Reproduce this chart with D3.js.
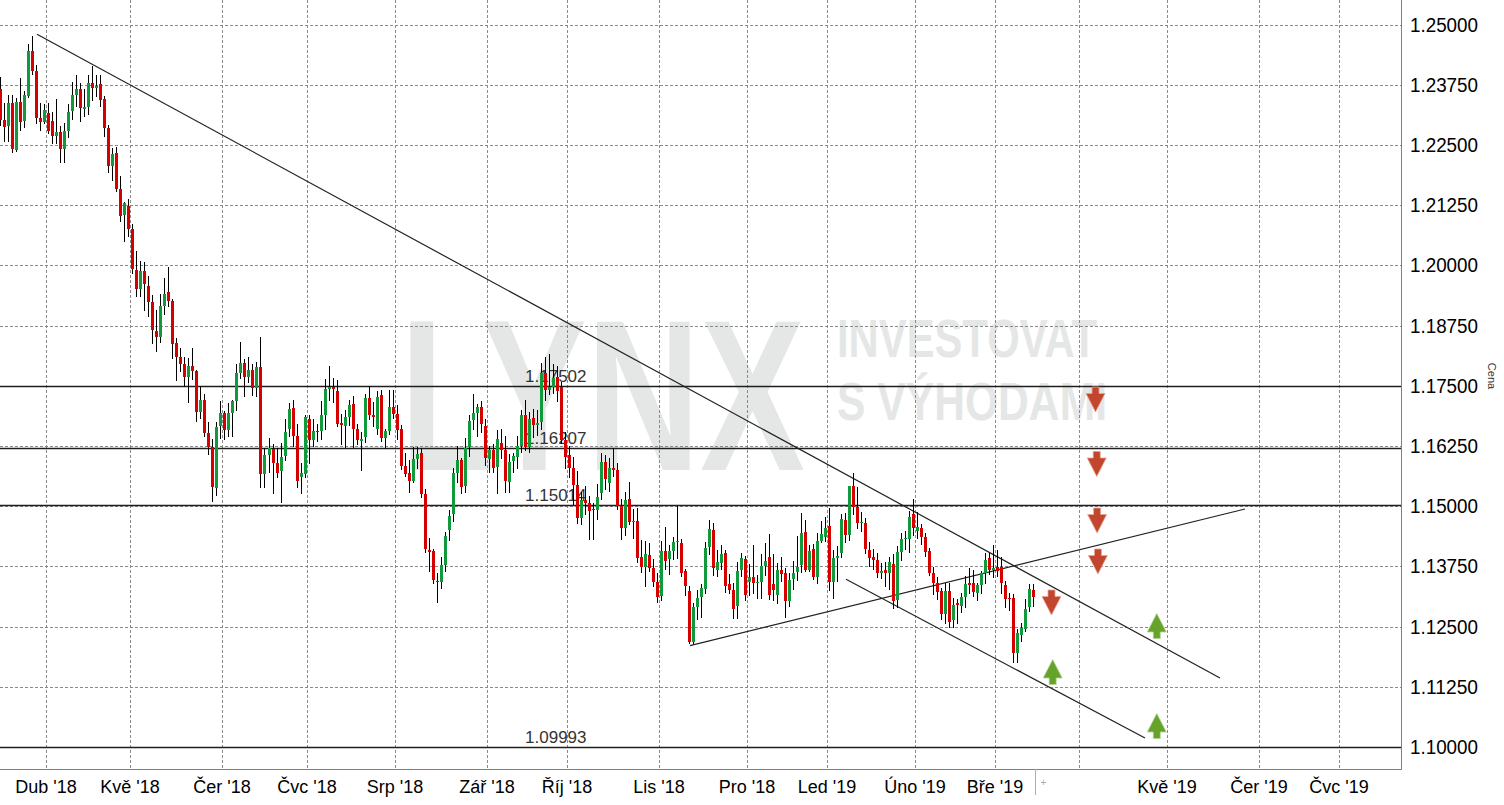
<!DOCTYPE html>
<html><head><meta charset="utf-8">
<script src="https://cdn.jsdelivr.net/npm/d3@7"></script>
<style>html,body{margin:0;padding:0;background:#fff;overflow:hidden}</style>
</head><body><svg id="chart" width="1504" height="805"></svg>
<script>
// ---- data: EUR/USD daily candles, 15 Mar 2018 - 14 Mar 2019 (bar index = array index)
const opens = [1.2367,1.2302,1.2288,1.2336,1.2240,1.2340,1.2298,1.2353,1.2446,1.2404,1.2306,1.2298,
1.2316,1.2300,1.2268,1.2277,1.2241,1.2279,1.2320,1.2354,1.2366,1.2325,1.2329,1.2378,1.2368,1.2376,1.2345,1.2285,1.2206,1.2233,1.2158,1.2104,1.2123,
1.2075,1.1991,1.1951,1.1988,1.1957,1.1923,1.1864,1.1851,1.1915,1.1944,1.1926,1.1839,1.1810,1.1796,1.1768,1.1791,1.1780,1.1695,1.1720,1.1652,1.1622,1.1539,1.1665,
1.1693,1.1658,1.1694,1.1718,1.1776,1.1797,1.1768,1.1783,1.1745,1.1789,1.1567,1.1606,1.1619,1.1590,1.1573,1.1604,1.1660,1.1704,1.1646,1.1560,1.1567,
1.1681,1.1638,1.1656,1.1656,1.1689,1.1743,1.1747,1.1739,1.1672,1.1666,1.1685,1.1712,1.1660,1.1635,1.1644,1.1725,1.1689,1.1660,1.1731,1.1642,1.1656,1.1706,
1.1691,1.1660,1.1583,1.1569,1.1552,1.1598,1.1610,1.1525,1.1410,1.1406,1.1345,1.1343,1.1378,1.1450,1.1484,1.1569,1.1596,1.1542,1.1622,1.1679,1.1693,1.1705,1.1666,
1.1597,1.1616,1.1580,1.1631,1.1616,1.1550,1.1594,1.1602,1.1625,1.1689,1.1623,1.1683,1.1668,1.1675,1.1776,1.1741,1.1747,1.1768,1.1747,1.1637,
1.1607,1.1579,1.1544,1.1475,1.1513,1.1506,1.1494,1.1492,1.1527,1.1591,1.1548,1.1579,1.1575,1.1501,1.1455,1.1514,1.1467,1.1470,1.1394,1.1374,1.1398,1.1372,1.1343,
1.1313,1.1406,1.1390,1.1406,1.1425,1.1423,1.1365,1.1323,1.1218,1.1290,1.1311,1.1328,1.1414,1.1450,1.1367,1.1382,1.1402,1.1338,1.1325,1.1292,1.1367,1.1390,
1.1343,1.1353,1.1340,1.1343,1.1376,1.1394,1.1338,1.1315,1.1367,1.1361,1.1303,1.1349,1.1363,1.1378,1.1446,1.1367,1.1412,1.1353,1.1427,1.1436,
1.1459,1.1343,1.1392,1.1402,1.1471,1.1440,1.1541,1.1498,1.1465,1.1465,1.1409,1.1394,1.1388,1.1361,1.1368,1.1361,1.1380,1.1305,1.1404,1.1431,1.1431,1.1484,
1.1448,1.1455,1.1437,1.1406,1.1361,1.1340,1.1324,1.1276,1.1323,1.1263,1.1300,1.1292,1.1311,1.1340,1.1340,1.1320,1.1336,1.1361,1.1392,1.1367,
1.1373,1.1373,1.1336,1.1309,1.1309,1.1195,1.1233,1.1246,1.1289,1.1325];
const highs = [1.2392,1.2336,1.2354,1.2353,1.2348,1.2388,1.2362,1.2459,1.2476,1.2415,1.2338,1.2334,
1.2336,1.2318,1.2345,1.2290,1.2295,1.2335,1.2380,1.2396,1.2378,1.2366,1.2396,1.2413,1.2395,1.2396,1.2352,1.2291,1.2243,1.2245,1.2185,1.2131,1.2137,
1.2085,1.2030,1.2009,1.2007,1.1978,1.1938,1.1907,1.1940,1.1973,1.1996,1.1930,1.1850,1.1828,1.1810,1.1808,1.1829,1.1782,1.1750,1.1732,1.1674,1.1640,1.1675,1.1718,
1.1698,1.1715,1.1720,1.1796,1.1840,1.1805,1.1809,1.1795,1.1800,1.1852,1.1620,1.1642,1.1630,1.1620,1.1631,1.1680,1.1714,1.1721,1.1670,1.1590,1.1690,
1.1690,1.1681,1.1670,1.1719,1.1764,1.1790,1.1766,1.1762,1.1692,1.1700,1.1720,1.1728,1.1670,1.1654,1.1732,1.1750,1.1716,1.1739,1.1742,1.1660,1.1742,1.1741,
1.1710,1.1668,1.1610,1.1595,1.1622,1.1622,1.1620,1.1535,1.1433,1.1412,1.1362,1.1394,1.1446,1.1492,1.1580,1.1624,1.1601,1.1641,1.1690,1.1733,1.1712,1.1718,1.1680,
1.1625,1.1630,1.1658,1.1660,1.1645,1.1608,1.1610,1.1645,1.1700,1.1721,1.1695,1.1702,1.1700,1.1797,1.1810,1.1815,1.1795,1.1790,1.1758,1.1655,
1.1625,1.1603,1.1572,1.1530,1.1541,1.1522,1.1507,1.1546,1.1610,1.1606,1.1600,1.1621,1.1590,1.1515,1.1530,1.1550,1.1495,1.1496,1.1429,1.1427,1.1423,1.1390,1.1361,
1.1428,1.1456,1.1420,1.1436,1.1500,1.1432,1.1370,1.1335,1.1300,1.1326,1.1339,1.1425,1.1472,1.1465,1.1410,1.1420,1.1410,1.1360,1.1340,1.1385,1.1402,1.1397,
1.1380,1.1419,1.1357,1.1400,1.1424,1.1442,1.1400,1.1381,1.1395,1.1372,1.1362,1.1387,1.1439,1.1486,1.1472,1.1420,1.1421,1.1445,1.1470,1.1477,
1.1497,1.1408,1.1417,1.1484,1.1485,1.1542,1.1569,1.1540,1.1487,1.1476,1.1425,1.1412,1.1402,1.1383,1.1385,1.1395,1.1400,1.1418,1.1445,1.1448,1.1490,1.1514,
1.1488,1.1463,1.1445,1.1413,1.1374,1.1353,1.1330,1.1341,1.1340,1.1310,1.1308,1.1320,1.1355,1.1372,1.1368,1.1340,1.1366,1.1402,1.1403,1.1420,
1.1408,1.1395,1.1345,1.1320,1.1318,1.1245,1.1258,1.1307,1.1338,1.1338];
const lows = [1.2291,1.2259,1.2259,1.2235,1.2238,1.2282,1.2287,1.2350,1.2398,1.2296,1.2281,1.2296,
1.2274,1.2255,1.2253,1.2215,1.2215,1.2267,1.2304,1.2330,1.2300,1.2310,1.2314,1.2344,1.2351,1.2330,1.2268,1.2194,1.2177,1.2154,1.2092,1.2050,1.2060,
1.1985,1.1937,1.1937,1.1908,1.1895,1.1838,1.1822,1.1840,1.1900,1.1916,1.1808,1.1762,1.1780,1.1749,1.1717,1.1764,1.1676,1.1684,1.1645,1.1609,1.1510,1.1523,1.1641,
1.1640,1.1645,1.1645,1.1700,1.1766,1.1729,1.1758,1.1730,1.1728,1.1540,1.1540,1.1570,1.1527,1.1560,1.1508,1.1596,1.1645,1.1624,1.1540,1.1528,1.1560,
1.1590,1.1624,1.1635,1.1640,1.1660,1.1720,1.1717,1.1666,1.1630,1.1623,1.1668,1.1623,1.1630,1.1575,1.1634,1.1680,1.1666,1.1650,1.1636,1.1620,1.1650,1.1684,
1.1640,1.1578,1.1562,1.1530,1.1550,1.1580,1.1520,1.1405,1.1365,1.1340,1.1301,1.1330,1.1365,1.1430,1.1470,1.1550,1.1528,1.1530,1.1604,1.1660,1.1646,1.1655,1.1585,
1.1570,1.1571,1.1527,1.1600,1.1530,1.1530,1.1570,1.1580,1.1612,1.1616,1.1612,1.1644,1.1648,1.1660,1.1720,1.1733,1.1735,1.1719,1.1632,1.1580,
1.1560,1.1505,1.1465,1.1463,1.1484,1.1432,1.1432,1.1474,1.1515,1.1536,1.1532,1.1562,1.1494,1.1432,1.1440,1.1462,1.1434,1.1385,1.1364,1.1335,1.1366,1.1335,1.1302,
1.1306,1.1370,1.1360,1.1390,1.1393,1.1355,1.1315,1.1216,1.1216,1.1265,1.1270,1.1320,1.1400,1.1357,1.1355,1.1370,1.1322,1.1320,1.1267,1.1267,1.1355,1.1305,
1.1315,1.1320,1.1310,1.1310,1.1357,1.1308,1.1306,1.1300,1.1345,1.1269,1.1293,1.1329,1.1346,1.1363,1.1365,1.1365,1.1349,1.1340,1.1426,1.1427,
1.1325,1.1310,1.1345,1.1395,1.1425,1.1430,1.1484,1.1455,1.1448,1.1402,1.1376,1.1370,1.1353,1.1350,1.1334,1.1329,1.1289,1.1291,1.1388,1.1411,1.1405,1.1440,
1.1433,1.1421,1.1396,1.1357,1.1318,1.1308,1.1265,1.1257,1.1249,1.1249,1.1258,1.1280,1.1290,1.1320,1.1314,1.1306,1.1320,1.1340,1.1360,1.1352,
1.1354,1.1320,1.1290,1.1284,1.1176,1.1176,1.1220,1.1240,1.1283,1.1292];
const closes = [1.2302,1.2288,1.2336,1.2240,1.2340,1.2298,1.2353,1.2446,1.2404,1.2306,1.2298,1.2322,
1.2279,1.2268,1.2277,1.2241,1.2279,1.2318,1.2353,1.2366,1.2326,1.2329,1.2378,1.2368,1.2372,1.2343,1.2285,1.2206,1.2231,1.2158,1.2102,1.2129,1.2075,
1.1991,1.1951,1.1988,1.1961,1.1923,1.1864,1.1851,1.1916,1.1940,1.1926,1.1837,1.1810,1.1796,1.1768,1.1791,1.1780,1.1695,1.1720,1.1652,1.1622,1.1539,1.1665,1.1693,
1.1658,1.1694,1.1718,1.1776,1.1797,1.1768,1.1783,1.1745,1.1789,1.1567,1.1606,1.1621,1.1590,1.1569,1.1602,1.1654,1.1702,1.1646,1.1552,1.1568,1.1685,
1.1638,1.1656,1.1654,1.1689,1.1743,1.1747,1.1743,1.1670,1.1668,1.1685,1.1710,1.1660,1.1637,1.1639,1.1725,1.1689,1.1685,1.1727,1.1642,1.1656,1.1706,1.1691,
1.1658,1.1583,1.1567,1.1552,1.1598,1.1608,1.1525,1.1410,1.1406,1.1345,1.1343,1.1378,1.1439,1.1479,1.1569,1.1596,1.1540,1.1621,1.1676,1.1693,1.1706,1.1670,1.1599,
1.1616,1.1579,1.1639,1.1616,1.1552,1.1592,1.1604,1.1625,1.1689,1.1623,1.1681,1.1668,1.1672,1.1776,1.1741,1.1747,1.1766,1.1739,1.1637,1.1602,
1.1579,1.1544,1.1475,1.1513,1.1506,1.1490,1.1492,1.1519,1.1591,1.1556,1.1579,1.1575,1.1501,1.1455,1.1513,1.1467,1.1470,1.1394,1.1374,1.1400,1.1372,1.1343,1.1311,
1.1406,1.1386,1.1406,1.1425,1.1427,1.1361,1.1334,1.1218,1.1290,1.1309,1.1330,1.1413,1.1452,1.1371,1.1384,1.1401,1.1334,1.1325,1.1285,1.1365,1.1392,1.1315,
1.1353,1.1340,1.1343,1.1376,1.1386,1.1315,1.1325,1.1367,1.1359,1.1303,1.1347,1.1361,1.1373,1.1444,1.1367,1.1406,1.1353,1.1427,1.1442,1.1454,
1.1343,1.1392,1.1397,1.1473,1.1440,1.1541,1.1497,1.1465,1.1468,1.1411,1.1392,1.1387,1.1361,1.1365,1.1361,1.1384,1.1303,1.1405,1.1431,1.1433,1.1477,1.1455,
1.1456,1.1437,1.1406,1.1361,1.1340,1.1322,1.1276,1.1323,1.1259,1.1294,1.1295,1.1311,1.1338,1.1336,1.1322,1.1336,1.1361,1.1388,1.1367,1.1371,
1.1364,1.1340,1.1307,1.1307,1.1195,1.1237,1.1247,1.1287,1.1327,1.1310];

// month boundaries (bar index of first trading day) and labels
const monthIndex  = [12, 33, 56, 77, 99, 122, 142, 165, 187, 207, 229, 249, 270, 292, 315, 335];
const monthLabels = ["Dub '18","Kvě '18","Čer '18","Čvc '18","Srp '18","Zář '18","Říj '18","Lis '18","Pro '18","Led '19","Úno '19","Bře '19","","Kvě '19","Čer '19","Čvc '19"];

// price axis ticks
const priceTicks = [1.10000,1.11250,1.12500,1.13750,1.15000,1.16250,1.17500,1.18750,1.20000,1.21250,1.22500,1.23750,1.25000];

// horizontal support/resistance levels
const levels = [1.17502, 1.16207, 1.15014, 1.09993];

// trend lines [startIndex, startPrice, endIndex, endPrice]
const trendLines = [
  [9.17, 1.24797, 304.7, 1.11433],
  [172.3, 1.12103, 310.95, 1.14941],
  [211.27, 1.13482, 285.96, 1.10187]
];

// forecast arrows [barIndex, price at arrow centre]
const downArrows = [[273.6, 1.17215], [273.9, 1.15876], [274.0, 1.14702], [274.2, 1.13851], [262.6, 1.13000]];
const upArrows   = [[288.9, 1.12512], [262.9, 1.11557], [288.9, 1.10436]];

const lastBar = 258;

// ---- drawing
const plotRight = 1401, plotBottom = 769;
const svg = d3.select("#chart");
const x = d3.scaleLinear().domain([0, 350]).range([0.3, 0.3 + 350 * 4.003]);
const y = d3.scaleLinear().domain([1.10, 1.25]).range([747, 24.5]);

svg.append("rect").attr("width", 1504).attr("height", 805).attr("fill", "#fff");

const defs = svg.append("defs");
defs.append("clipPath").attr("id", "plotclip").append("rect")
  .attr("x", 0).attr("y", 0).attr("width", plotRight).attr("height", plotBottom);

// watermark
const wm = svg.append("g").attr("fill", "#e5e7e7").attr("font-family", "'Liberation Sans', Arial, sans-serif").attr("font-weight", "bold");
wm.append("text").attr("x", 400).attr("y", 470).attr("font-size", 216)
  .attr("textLength", 405).attr("lengthAdjust", "spacingAndGlyphs").text("LYNX");
wm.append("text").attr("x", 837).attr("y", 357).attr("font-size", 54)
  .attr("textLength", 260).attr("lengthAdjust", "spacingAndGlyphs").text("INVESTOVAT");
wm.append("text").attr("x", 837).attr("y", 420).attr("font-size", 53)
  .attr("textLength", 270).attr("lengthAdjust", "spacingAndGlyphs").text("S VÝHODAMI");

// grid
const grid = svg.append("g").attr("stroke", "#8a8a8a").attr("stroke-width", 1).attr("stroke-dasharray", "3,2");
grid.selectAll("line.h").data(priceTicks).join("line")
  .attr("x1", 0).attr("x2", plotRight)
  .attr("y1", d => Math.round(y(d)) + 0.5).attr("y2", d => Math.round(y(d)) + 0.5);
grid.selectAll("line.v").data(monthIndex).join("line")
  .attr("x1", d => Math.round(x(d) - 2) + 0.5).attr("x2", d => Math.round(x(d) - 2) + 0.5)
  .attr("y1", 0).attr("y2", plotBottom);

// levels
const lv = svg.append("g");
lv.selectAll("line").data(levels).join("line")
  .attr("x1", 0).attr("x2", plotRight)
  .attr("y1", d => Math.round(y(d)) + 0.5).attr("y2", d => Math.round(y(d)) + 0.5)
  .attr("stroke", "#1e1e1e").attr("stroke-width", 1.3);
lv.selectAll("text").data(levels).join("text")
  .attr("x", x(131.1)).attr("y", d => y(d) - 4)
  .attr("font-family", "'Liberation Sans', Arial, sans-serif").attr("font-size", 17)
  .attr("fill", "#333").text(d => d.toFixed(5));

// trend lines
svg.append("g").selectAll("line").data(trendLines).join("line")
  .attr("x1", d => x(d[0])).attr("y1", d => y(d[1]))
  .attr("x2", d => x(d[2])).attr("y2", d => y(d[3]))
  .attr("stroke", "#222").attr("stroke-width", 1.2);

// candles
const bars = d3.range(closes.length);
const cg = svg.append("g").attr("clip-path", "url(#plotclip)");
cg.selectAll("line.wick").data(bars).join("line")
  .attr("x1", i => Math.round(x(i)) + 0.5).attr("x2", i => Math.round(x(i)) + 0.5)
  .attr("y1", i => Math.round(y(highs[i]))).attr("y2", i => Math.round(y(lows[i])) + 1)
  .attr("stroke", "#000").attr("stroke-width", 1);
cg.selectAll("rect").data(bars).join("rect")
  .attr("x", i => Math.round(x(i)) - 1)
  .attr("width", 3)
  .attr("y", i => Math.round(y(Math.max(opens[i], closes[i]))))
  .attr("height", i => Math.max(1, Math.round(Math.abs(y(opens[i]) - y(closes[i])))))
  .attr("fill", i => closes[i] >= opens[i] ? "#119a3c" : "#d70000");

// arrows
const downPath = "M-3.5,-12.5L3.5,-12.5L3.5,-6L9.5,-6L0,12.5L-9.5,-6L-3.5,-6Z";
const upPath = "M-3.5,12.5L3.5,12.5L3.5,6L9.5,6L0,-12.5L-9.5,6L-3.5,6Z";
svg.append("g").selectAll("path").data(downArrows).join("path")
  .attr("transform", d => `translate(${x(d[0])},${y(d[1])})`)
  .attr("d", downPath).attr("fill", "#c2452d").attr("stroke", "#e7a493").attr("stroke-width", 0.8);
svg.append("g").selectAll("path").data(upArrows).join("path")
  .attr("transform", d => `translate(${x(d[0])},${y(d[1])})`)
  .attr("d", upPath).attr("fill", "#65a32a").attr("stroke", "#b5d495").attr("stroke-width", 0.8);

// axes
const ax = svg.append("g");
ax.append("line").attr("x1", plotRight + 0.5).attr("x2", plotRight + 0.5).attr("y1", 0).attr("y2", plotBottom + 1)
  .attr("stroke", "#808080");
ax.append("line").attr("x1", 0).attr("x2", plotRight + 1).attr("y1", plotBottom + 0.5).attr("y2", plotBottom + 0.5)
  .attr("stroke", "#808080");
ax.selectAll("text.yl").data(priceTicks).join("text")
  .attr("x", 1410).attr("y", d => y(d) + 7)
  .attr("font-family", "'Liberation Sans', Arial, sans-serif").attr("font-size", 20)
  .attr("textLength", 68).attr("lengthAdjust", "spacingAndGlyphs")
  .attr("fill", "#000").text(d => d.toFixed(5));
ax.selectAll("text.xl").data(monthIndex).join("text")
  .attr("x", d => Math.round(x(d) - 2)).attr("y", 793)
  .attr("text-anchor", "middle")
  .attr("font-family", "'Liberation Sans', Arial, sans-serif").attr("font-size", 18)
  .attr("fill", "#000").text((d, k) => monthLabels[k]);
ax.append("text").attr("transform", "translate(1488,376) rotate(90)")
  .attr("text-anchor", "middle").attr("font-family", "'Liberation Sans', Arial, sans-serif")
  .attr("font-size", 11).attr("fill", "#333").text("Cena");
// end-of-data separator on the time axis
const sepX = Math.round(x(lastBar + 0.5)) + 0.5;
ax.append("line").attr("x1", sepX).attr("x2", sepX).attr("y1", plotBottom).attr("y2", 795)
  .attr("stroke", "#b0b0b0");
ax.append("text").attr("x", sepX + 5).attr("y", 786).attr("font-size", 10)
  .attr("font-family", "'Liberation Sans', Arial, sans-serif").attr("fill", "#aaa").text("+");
</script>
</body></html>
